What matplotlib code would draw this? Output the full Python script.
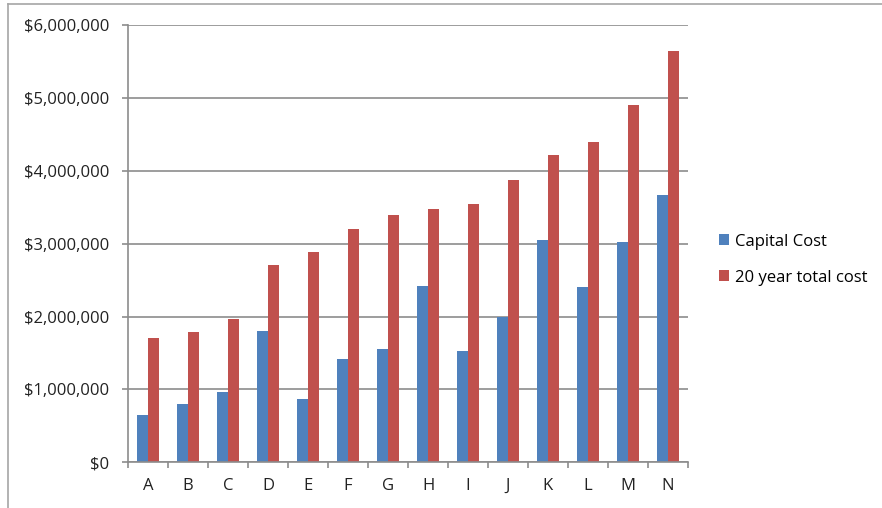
import numpy as np
import matplotlib.pyplot as plt
from matplotlib.lines import Line2D
from matplotlib.ticker import FuncFormatter

# Cost per site, in dollars
sites = ["A", "B", "C", "D", "E", "F", "G", "H", "I", "J", "K", "L", "M", "N"]
capital_cost = [648000, 803000, 959000, 1803000, 871000, 1411000, 1556000,
                2415000, 1521000, 2000000, 3055000, 2411000, 3027000, 3662000]
total_cost_20yr = [1707000, 1781000, 1973000, 2703000, 2881000, 3200000, 3397000,
                   3479000, 3538000, 3871000, 4219000, 4388000, 4899000, 5638000]

BLUE = "#4F81BD"
RED = "#C0504D"
GRID = "#8c8c8c"
FONT_SIZE = 12

plt.rcParams["font.family"] = ["Open Sans", "DejaVu Sans"]

fig = plt.figure(figsize=(8.82, 5.08), dpi=100)
ax = fig.add_axes([128 / 882, 1 - 462.3 / 508, 560 / 882, (462.3 - 25) / 508])

x = np.arange(len(sites))
width = 1 / 3.5  # gap between groups is 150% of a bar
ax.bar(x - width / 2, capital_cost, width, color=BLUE, label="Capital Cost")
ax.bar(x + width / 2, total_cost_20yr, width, color=RED, label="20 year total cost")

ax.set_xlim(-0.5, len(sites) - 0.5)
ax.set_ylim(0, 6000000)
ax.set_yticks(np.arange(0, 6000001, 1000000))
ax.yaxis.set_major_formatter(FuncFormatter(lambda v, p: "${:,.0f}".format(v)))
ax.set_xticks(x)
ax.set_xticklabels(sites)
ax.set_xticks(np.arange(-0.5, len(sites)), minor=True)

ax.grid(axis="y", color=GRID, linewidth=1.2)
ax.set_axisbelow(True)
for side in ["top", "right"]:
    ax.spines[side].set_visible(False)
for side in ["left", "bottom"]:
    ax.spines[side].set_color(GRID)
    ax.spines[side].set_linewidth(1.2)

ax.tick_params(axis="y", length=4.5, width=1.2, color=GRID, labelsize=FONT_SIZE,
               labelcolor="#222222", pad=9)
ax.tick_params(axis="x", which="major", length=0, labelsize=FONT_SIZE,
               labelcolor="#222222", pad=11)
ax.tick_params(axis="x", which="minor", length=4.5, width=1.2, color=GRID)

ax.legend(loc="center left", bbox_to_anchor=(711 / 882, 1 - 259.5 / 508),
          bbox_transform=fig.transFigure, frameon=False, fontsize=FONT_SIZE,
          handlelength=0.6, handleheight=0.6, handletextpad=0.35,
          labelspacing=1.2, borderpad=0)

# outer chart frame (left and top edges)
frame_kw = dict(color="#a6a6a6", linewidth=1.2, transform=fig.transFigure)
fig.add_artist(Line2D([7.5 / 882, 7.5 / 882], [0, 1 - 3.5 / 508], **frame_kw))
fig.add_artist(Line2D([7.5 / 882, 1], [1 - 3.5 / 508, 1 - 3.5 / 508], **frame_kw))

fig.savefig("out.png", dpi=100)
